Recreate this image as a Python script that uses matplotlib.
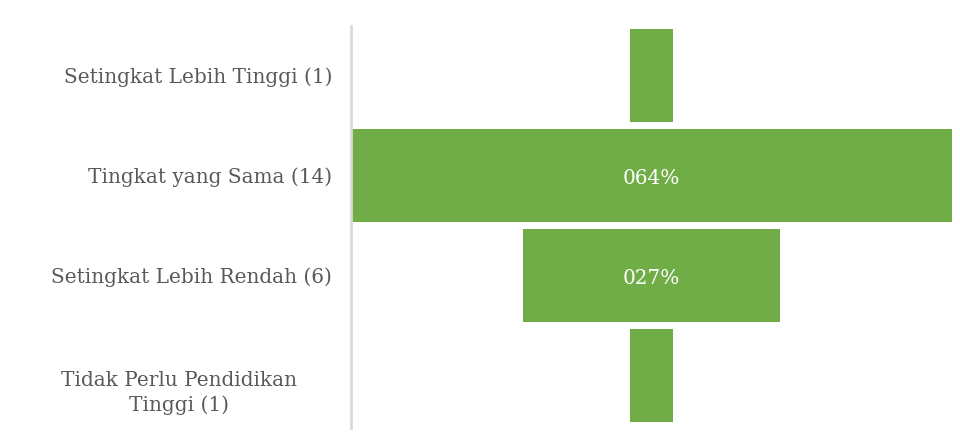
import matplotlib
matplotlib.use("Agg")
import matplotlib.pyplot as plt

categories = ["Setingkat Lebih Tinggi (1)", "Tingkat yang Sama (14)",
              "Setingkat Lebih Rendah (6)", "Tidak Perlu Pendidikan\nTinggi (1)"]
values = [4.5, 63.6, 27.3, 4.5]
labels = ["", "064%", "027%", ""]

plt.rcParams['font.family'] = ['DejaVu Serif']

fig = plt.figure(figsize=(9.6, 4.34), dpi=100)
ax = fig.add_axes([351/960, 1 - 425.5/434, (952 - 351)/960, 400/434])

green = "#70AD47"
gray = "#595959"
ys = list(range(len(categories)))
lefts = [-v/2 for v in values]
ax.barh(ys, values, left=lefts, height=0.93, color=green)
for y, v, lab in zip(ys, values, labels):
    if lab:
        ax.text(0, y + 0.025, lab, ha="center", va="center", color="white", fontsize=14.4)

m = max(values) / 2
ax.set_xlim(-m, m)
ax.set_ylim(len(categories) - 0.5, -0.5)
ax.set_xticks([])
ax.set_yticks(ys)
ax.set_yticklabels(categories[:-1] + [""], fontsize=14.4, color=gray)
ax.tick_params(axis="y", length=0, pad=13.5)
# wrapped last category label is centred in the label area, slightly lower
fig.text(179/960, 1 - 393/434, categories[-1], ha="center", va="center",
         fontsize=14.4, color=gray, multialignment="center", linespacing=1.3)
for s in ["top", "right", "bottom"]:
    ax.spines[s].set_visible(False)
ax.spines["left"].set_color("#d9d9d9")
ax.spines["left"].set_linewidth(2)
ax.spines["left"].set_bounds(-0.5, 3.52)

fig.savefig("out.png", dpi=100)
